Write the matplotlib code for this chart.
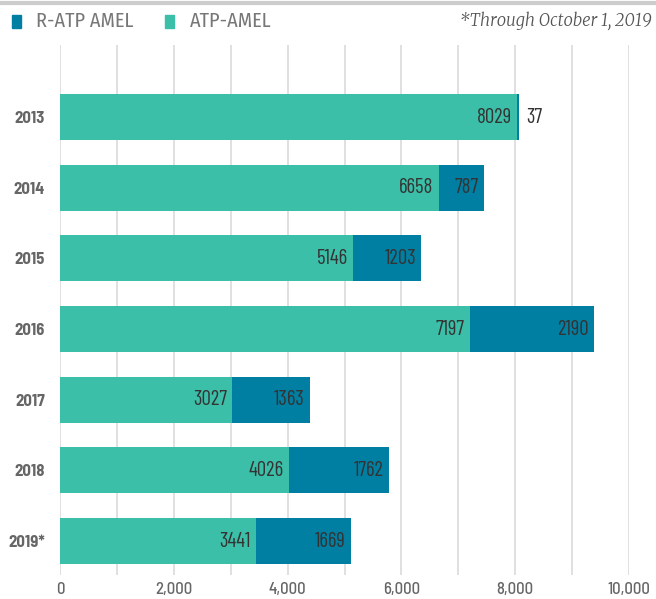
import numpy as np
import matplotlib.pyplot as plt
from matplotlib.patches import Rectangle
from matplotlib.lines import Line2D

years = ["2013", "2014", "2015", "2016", "2017", "2018", "2019*"]
atp = [8029, 6658, 5146, 7197, 3027, 4026, 3441]
ratp = [37, 787, 1203, 2190, 1363, 1762, 1669]
xticks = [0, 2000, 4000, 6000, 8000, 10000]

teal = "#3cbfa8"
blue = "#007fa3"
cond = ["Barlow Condensed", "DejaVu Sans"]
semi = ["Barlow Semi Condensed", "DejaVu Sans"]
light = ["Fira Sans Condensed", "DejaVu Sans"]
serif = ["Merriweather", "DejaVu Serif"]

fig = plt.figure(figsize=(6.56, 5.99), dpi=100)
ax = fig.add_axes([60/656, 1-575/599, 569/656, 530/599])

y = np.arange(len(years))
ax.barh(y, atp, height=0.65, color=teal, zorder=2)
ax.barh(y, ratp, left=atp, height=0.65, color=blue, zorder=2)

for i in range(len(years)):
    ax.text(atp[i] - 90, i, str(atp[i]), ha="right", va="center",
            fontsize=15, color="#333333", family=cond, zorder=3)
    if ratp[i] < 300:
        ax.text(atp[i] + ratp[i] + 120, i, str(ratp[i]), ha="left", va="center",
                fontsize=15, color="#333333", family=cond, zorder=3)
    else:
        ax.text(atp[i] + ratp[i] - 90, i, str(ratp[i]), ha="right", va="center",
                fontsize=15, color="#333333", family=cond, zorder=3)

ax.set_xlim(0, 10000)
ax.set_ylim(6.48, -1.02)
ax.set_xticks(np.arange(0, 10001, 1000))
ax.set_xticklabels([f"{v:,}" if v in xticks else "" for v in np.arange(0, 10001, 1000)],
                   fontsize=12, color="#666666", family=semi, fontweight="medium")
ax.set_yticks(y)
ax.set_yticklabels(years, fontsize=12, color="#666666", fontweight="bold", family=semi)
ax.tick_params(axis="x", length=0, pad=5)
ax.tick_params(axis="y", length=0, pad=11)
ax.grid(axis="x", color="#dadada", linewidth=1.2, zorder=0)
for s in ax.spines.values():
    s.set_visible(False)

# top rule and legend
fig.add_artist(Line2D([0, 1], [1-3/599, 1-3/599], color="#cccccc", linewidth=3))
fig.add_artist(Rectangle((12/656, 1-28/599), 9/656, 13/599, color=blue))
fig.text(36/656, 1-21/599, "R-ATP AMEL", fontsize=14.5, color="#777777",
         va="center", family=light, fontweight="normal")
fig.add_artist(Rectangle((165/656, 1-28/599), 9/656, 13/599, color=teal))
fig.text(190/656, 1-21/599, "ATP-AMEL", fontsize=14.5, color="#777777",
         va="center", family=light, fontweight="normal")
fig.text(652/656, 1-21/599, "*Through October 1, 2019", fontsize=12,
         color="#555555", va="center", ha="right", family=serif,
         style="italic")

fig.savefig("out.png", dpi=100)
